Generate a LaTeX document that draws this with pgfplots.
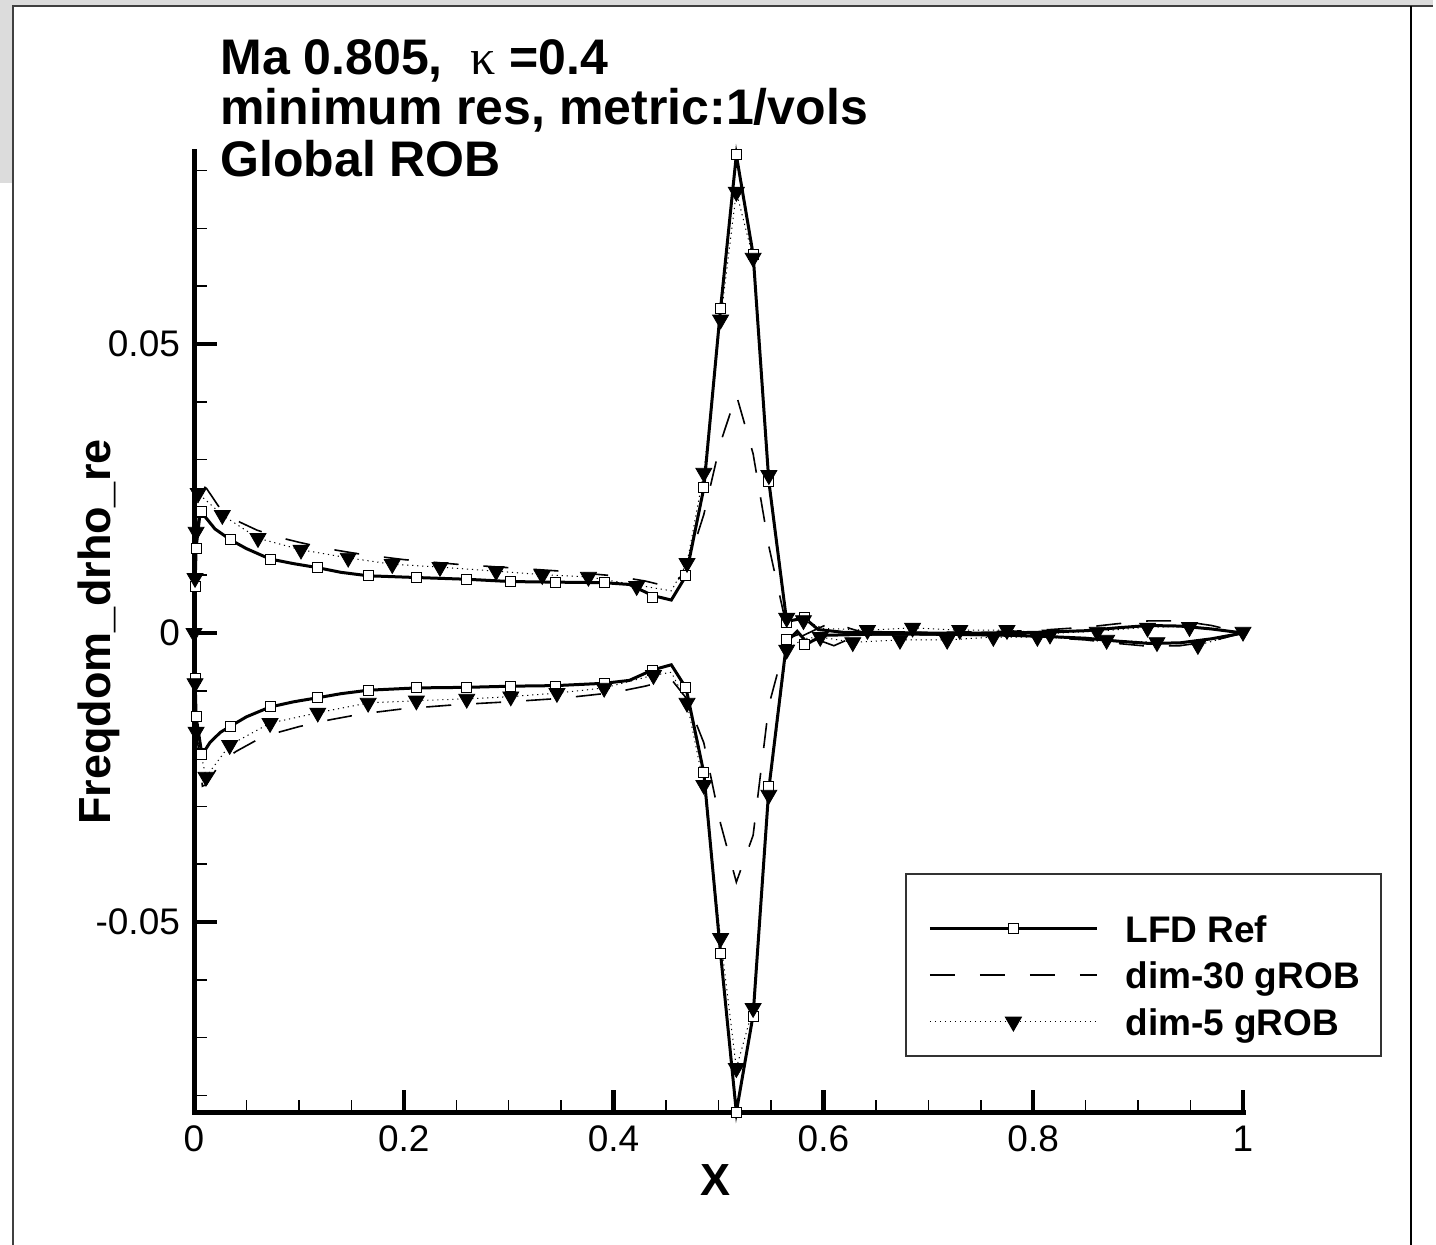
\documentclass[border=0pt]{standalone}
\usepackage{pgfplots}
\pgfplotsset{compat=1.18}
\usepackage{fontspec}
\setmainfont{Liberation Sans}
\newfontfamily\greekfont{Liberation Serif}
\definecolor{bggray}{HTML}{DCDCDC}

\begin{document}
\begin{tikzpicture}
\useasboundingbox (0,0) rectangle (718pt,622.5pt);
\fill[white] (0,0) rectangle (718pt,622.5pt);
\fill[bggray] (0,619.8pt) rectangle (716.5pt,622.5pt);
\fill[bggray] (0,531pt) rectangle (6.5pt,622.5pt);
\draw[line width=0.7pt, black!75] (6.5pt,0) -- (6.5pt,619.5pt) -- (716.5pt,619.5pt);
\draw[line width=1.1pt] (705.5pt,0) -- (705.5pt,619.5pt);

\begin{axis}[
  at={(97pt,66pt)}, anchor=south west,
  scale only axis, width=524.5pt, height=480.5pt,
  xmin=0, xmax=1, ymin=-0.08304, ymax=0.08322,
  scaled y ticks=false, scaled x ticks=false,
  axis lines*=left,
  axis line style={line width=2.5pt, line cap=rect},
  clip=false,
  tick align=inside,
  major tick length=11.5pt, minor tick length=6.5pt,
  every major tick/.append style={line width=2.2pt, black},
  every minor tick/.append style={line width=0.75pt, black},
  xtick={0,0.2,0.4,0.6,0.8,1}, xticklabels={0,0.2,0.4,0.6,0.8,1},
  minor xtick={0.05,0.1,0.15,0.25,0.3,0.35,0.45,0.5,0.55,0.65,0.7,0.75,0.85,0.9,0.95},
  ytick={-0.05,0,0.05}, yticklabels={-0.05,0,0.05},
  minor ytick={-0.08,-0.07,-0.06,-0.04,-0.03,-0.02,-0.01,0.01,0.02,0.03,0.04,0.06,0.07,0.08},
  ticklabel style={font=\fontsize{18.5}{22}\selectfont},
  yticklabel style={xshift=-3.5pt},
  xticklabel style={yshift=-3pt},
  legend style={draw=none, fill=none, at={(0.6997,0.2060)}, anchor=north west,
    inner sep=0pt, row sep=9.95pt,
    font=\fontsize{18.5}{22}\selectfont\bfseries,
    nodes={inner sep=0pt, text height=13.3pt, text depth=0pt},
    cells={anchor=west},
    /tikz/every odd column/.append style={column sep=13.5pt}},
  legend image code/.code={\draw[mark repeat=2,mark phase=2,#1] plot coordinates {(0pt,0pt) (41.75pt,0pt) (83.5pt,0pt)};},
]
\addlegendimage{black, line width=1.5pt, mark=square*, mark size=2.5pt, mark options={solid, fill=white, line width=0.5pt}}
\addlegendentry{LFD Ref}
\addlegendimage{black, line width=0.8pt, dash pattern=on 12.5pt off 12.5pt}
\addlegendentry{dim-30 gROB}
\addlegendimage{black, line width=0.5pt, dash pattern=on 0.6pt off 1.9pt, mark=triangle*, mark size=4.6pt, mark options={solid, rotate=180, fill=black}}
\addlegendentry{dim-5 gROB}

% ---------- LFD Ref ----------
\addplot[forget plot, black, line width=1.5pt] coordinates {
(0,0) (0.001,0.0080) (0.002,0.0147) (0.006,0.0211) (0.012,0.0198) (0.020,0.0180)
(0.035,0.0161) (0.050,0.0146) (0.0725,0.0128) (0.095,0.0120) (0.118,0.0113)
(0.140,0.0105) (0.166,0.0099) (0.212,0.0096) (0.260,0.0093) (0.302,0.0089)
(0.345,0.0088) (0.391,0.0087) (0.415,0.0084) (0.437,0.0065) (0.455,0.0057)
(0.469,0.0099) (0.486,0.0251) (0.502,0.0562) (0.517,0.0827) (0.533,0.0655)
(0.548,0.0262) (0.565,0.0020) (0.582,0.0026) (0.595,0.0006) (0.62,0.0001)
(0.65,0.0001) (0.70,0.0000) (0.75,0.0000) (0.80,0.0001) (0.85,0.0004)
(0.88,0.0009) (0.91,0.0013) (0.94,0.0012) (0.97,0.0007) (1.00,0.0000)};
\addplot[forget plot, black, line width=1.5pt] coordinates {
(0,0) (0.001,-0.0078) (0.002,-0.0145) (0.0076,-0.0211) (0.015,-0.0190) (0.025,-0.0172)
(0.035,-0.0161) (0.050,-0.0145) (0.0725,-0.0128) (0.095,-0.0119) (0.118,-0.0112)
(0.140,-0.0105) (0.166,-0.0099) (0.212,-0.0095) (0.260,-0.0094) (0.302,-0.0092)
(0.345,-0.0091) (0.391,-0.0087) (0.415,-0.0082) (0.437,-0.0064) (0.455,-0.0055)
(0.469,-0.0095) (0.486,-0.0242) (0.502,-0.0555) (0.517,-0.0829) (0.533,-0.0661)
(0.548,-0.0269) (0.565,-0.0015) (0.575,0.0003) (0.585,-0.0018) (0.60,-0.0004)
(0.65,-0.0002) (0.70,-0.0002) (0.75,-0.0003) (0.80,-0.0005) (0.85,-0.0009)
(0.88,-0.0014) (0.91,-0.0018) (0.94,-0.0017) (0.97,-0.0010) (1.00,0.0000)};
\addplot[forget plot, only marks, mark=square*, mark size=2.5pt, mark options={black, fill=white, line width=0.5pt}] coordinates {
(0.0015,0.0081) (0.002,0.0147) (0.0067,0.0211) (0.035,0.0161) (0.0725,0.0128)
(0.118,0.0113) (0.166,0.0099) (0.212,0.0096) (0.260,0.0093) (0.302,0.0089)
(0.345,0.0088) (0.391,0.0087) (0.437,0.0062) (0.469,0.0100) (0.486,0.0251)
(0.502,0.0562) (0.517,0.0827) (0.533,0.0655) (0.548,0.0262) (0.565,0.0018) (0.582,0.0027)
(0.0015,-0.0078) (0.002,-0.0145) (0.0076,-0.0211) (0.035,-0.0161) (0.0725,-0.0128)
(0.118,-0.0112) (0.166,-0.0099) (0.212,-0.0095) (0.260,-0.0095) (0.302,-0.0092)
(0.345,-0.0092) (0.391,-0.0087) (0.437,-0.0064) (0.469,-0.0094) (0.486,-0.0242)
(0.502,-0.0555) (0.517,-0.0829) (0.533,-0.0663) (0.548,-0.0265) (0.565,-0.0012) (0.582,-0.0020)};

% ---------- dim-30 gROB ----------
\addplot[forget plot, black, line width=0.8pt, dash pattern=on 12.5pt off 12.5pt] coordinates {
(0,0) (0.001,0.009) (0.003,0.018) (0.008,0.0255) (0.012,0.0250) (0.025,0.0215)
(0.040,0.0195) (0.060,0.0178) (0.080,0.0166) (0.100,0.0157) (0.130,0.0145)
(0.160,0.0136) (0.200,0.0127) (0.250,0.0119) (0.300,0.0113) (0.350,0.0107)
(0.400,0.0099) (0.430,0.0090) (0.455,0.0079) (0.469,0.0108) (0.486,0.0205)
(0.502,0.0330) (0.517,0.0412) (0.533,0.0310) (0.548,0.0150) (0.565,0.0010)
(0.580,-0.0005) (0.595,0.0008) (0.610,0.0020) (0.625,0.0008) (0.64,0.0000)
(0.70,0.0001) (0.75,0.0002) (0.80,0.0004) (0.85,0.0010) (0.88,0.0016)
(0.91,0.0021) (0.94,0.0021) (0.97,0.0013) (1.0,0)};
\addplot[forget plot, black, line width=0.8pt, dash pattern=on 12.5pt off 12.5pt] coordinates {
(0,0) (0.001,-0.009) (0.003,-0.018) (0.008,-0.0265) (0.012,-0.0262) (0.025,-0.0225)
(0.040,-0.0205) (0.060,-0.0185) (0.080,-0.0172) (0.100,-0.0162) (0.130,-0.0150)
(0.160,-0.0140) (0.200,-0.0131) (0.250,-0.0124) (0.300,-0.0119) (0.350,-0.0113)
(0.400,-0.0103) (0.430,-0.0092) (0.455,-0.0080) (0.469,-0.0112) (0.486,-0.0190)
(0.502,-0.0330) (0.517,-0.0431) (0.533,-0.0350) (0.548,-0.0125) (0.565,-0.0010)
(0.580,0.0000) (0.595,-0.0012) (0.610,-0.0022) (0.625,-0.0010) (0.64,-0.0003)
(0.70,-0.0003) (0.75,-0.0004) (0.80,-0.0006) (0.85,-0.0012) (0.88,-0.0018)
(0.91,-0.0023) (0.94,-0.0022) (0.97,-0.0014) (1.0,0)};

% ---------- dim-5 gROB ----------
\addplot[forget plot, black, line width=0.5pt, dash pattern=on 0.6pt off 1.9pt] coordinates {
(0,0) (0.001,0.0095) (0.002,0.0173) (0.004,0.0240) (0.010,0.0232) (0.027,0.0204)
(0.061,0.0164) (0.102,0.0144) (0.147,0.0130) (0.189,0.0119) (0.2345,0.0114)
(0.288,0.0107) (0.332,0.0101) (0.376,0.0097) (0.422,0.0083) (0.455,0.0073)
(0.470,0.0121) (0.486,0.0277) (0.502,0.0542) (0.517,0.0763) (0.533,0.0649)
(0.548,0.0273) (0.565,0.0026) (0.581,0.0022) (0.60,0.0008) (0.642,0.0005)
(0.685,0.0009) (0.73,0.0005) (0.775,0.0005) (0.816,-0.0001) (0.861,0.0003)
(0.909,0.0010) (0.949,0.0011) (1.0,0.0)};
\addplot[forget plot, black, line width=0.5pt, dash pattern=on 0.6pt off 1.9pt] coordinates {
(0,0) (0.001,-0.0087) (0.002,-0.0171) (0.0114,-0.0249) (0.034,-0.0194) (0.0725,-0.0156)
(0.118,-0.0138) (0.166,-0.0121) (0.212,-0.0117) (0.26,-0.0114) (0.302,-0.0110)
(0.346,-0.0104) (0.391,-0.0095) (0.438,-0.0073) (0.455,-0.0068) (0.470,-0.0121)
(0.486,-0.0263) (0.502,-0.0528) (0.517,-0.0753) (0.533,-0.0649) (0.548,-0.0280)
(0.565,-0.0029) (0.581,-0.0010) (0.597,-0.0007) (0.628,-0.0016) (0.673,-0.0012)
(0.718,-0.0012) (0.762,-0.0007) (0.804,-0.0007) (0.870,-0.0012) (0.918,-0.0016)
(0.957,-0.0021) (1.0,0)};
\addplot[forget plot, only marks, mark=triangle*, mark size=4.6pt, mark options={black, fill=black, rotate=180}] coordinates {
(0.0,0.0) (0.001,0.0095) (0.002,0.0175) (0.004,0.0242) (0.027,0.0204) (0.061,0.0164)
(0.102,0.0144) (0.147,0.0130) (0.189,0.0119) (0.2345,0.0114) (0.288,0.0107)
(0.332,0.0100) (0.376,0.0097) (0.422,0.0081) (0.470,0.0121) (0.486,0.0277)
(0.502,0.0542) (0.517,0.0763) (0.533,0.0649) (0.548,0.0273) (0.565,0.0026)
(0.581,0.0022) (0.642,0.0005) (0.685,0.0009) (0.730,0.0005) (0.775,0.0005)
(0.816,-0.0003) (0.861,0.0002) (0.909,0.0009) (0.949,0.0010) (1.0,0.0002)
(0.001,-0.0087) (0.002,-0.0171) (0.0114,-0.0249) (0.034,-0.0194) (0.0725,-0.0156)
(0.118,-0.0138) (0.166,-0.0121) (0.212,-0.0117) (0.26,-0.0114) (0.302,-0.0110)
(0.346,-0.0104) (0.391,-0.0095) (0.438,-0.0073) (0.470,-0.0121) (0.486,-0.0263)
(0.502,-0.0528) (0.517,-0.0753) (0.533,-0.0649) (0.548,-0.0280) (0.565,-0.0029)
(0.597,-0.0007) (0.628,-0.0016) (0.673,-0.0012) (0.718,-0.0012) (0.762,-0.0007)
(0.804,-0.0007) (0.870,-0.0012) (0.918,-0.0016) (0.957,-0.0021)};
\end{axis}

\draw[line width=0.75pt, black!80] (453pt,94.5pt) rectangle (690.5pt,185.5pt);

\node[anchor=base west, inner sep=0pt, font=\fontsize{25}{30}\selectfont\bfseries] at (110pt,585pt) {Ma 0.805,\ \ {\greekfont\mdseries κ}\ =0.4};
\node[anchor=base west, inner sep=0pt, font=\fontsize{25}{30}\selectfont\bfseries] at (110pt,560pt) {minimum res, metric:1/vols};
\node[anchor=base west, inner sep=0pt, font=\fontsize{25}{30}\selectfont\bfseries] at (110pt,534pt) {Global ROB};
\node[rotate=90, inner sep=0pt, font=\fontsize{22.5}{27}\selectfont\bfseries] at (49.5pt,306.5pt) {Freqdom\_drho\_re};
\node[inner sep=0pt, font=\fontsize{22.5}{27}\selectfont\bfseries] at (358pt,32.5pt) {X};
\end{tikzpicture}
\end{document}
